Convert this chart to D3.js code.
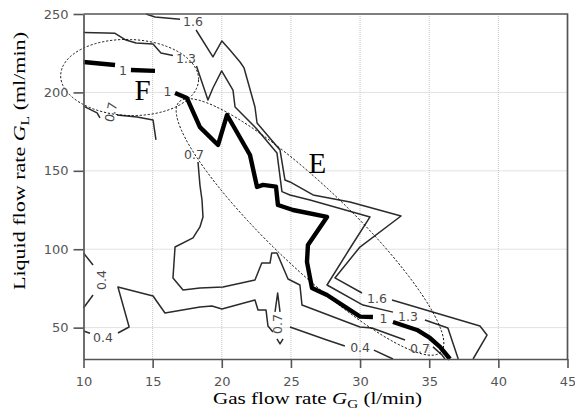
<!DOCTYPE html>
<html>
<head>
<meta charset="utf-8">
<script src="https://cdn.jsdelivr.net/npm/d3@7"></script>
<style>
  body { margin: 0; background: #fff; }
  svg { display: block; }
</style>
</head>
<body>
<div id="chart"></div>
<script>
// Contour map of GL (liquid) vs GG (gas) flow rate

const xTicks = [10, 15, 20, 25, 30, 35, 40, 45];
const yTicks = [50, 100, 150, 200, 250];

// contour segments per level, [GG (l/min), GL (ml/min)], broken where labels sit
const c04 = [
  [[10, 97.6], [10.69, 89.9]],
  [[10.69, 70.8], [10, 62.5]],
  [[10, 47.9], [10.47, 46.4]],
  [[12.49, 46.6], [13.3, 50.4], [12.49, 75.9], [15.03, 70.2], [15.89, 59.3], [18.42, 63.2], [19.29, 63.8],
   [20.01, 61.9], [22.40, 67.6], [22.62, 61.2], [23.20, 61.2], [23.34, 51.0], [23.70, 47.2]],
  [[24.93, 50.4], [27.60, 42.1], [28.9, 38.3]],
  [[31.0, 35.7], [32.38, 30.0]]
];

const c07 = [
  [[10, 191.3], [10.98, 186.9], [11.19, 183.7]],
  [[12.42, 185.6], [13.87, 184.3], [15.03, 182.4], [15.24, 169.7]],
  [[18.28, 155.6], [18.42, 140.9], [18.57, 131.4], [18.64, 120.6], [18.42, 114.2], [17.92, 107.2], [16.62, 101.4],
   [16.47, 81.7], [17.20, 74.0], [18.42, 75.3], [20.09, 75.9], [22.40, 80.4], [22.89, 91.2], [23.49, 91.2],
   [23.61, 97.6], [23.99, 97.6], [24.79, 81.0], [25.65, 77.2], [25.80, 64.4], [29.99, 50.4], [30.86, 49.8], [33.25, 42.1]],
  [[35.27, 37.7], [35.92, 32.6], [36.14, 30.0]],
  [[23.85, 60.0], [24.04, 72.1], [24.21, 60.0]],
  [[23.99, 42.8], [24.21, 39.6], [24.43, 42.8]]
];

const c10 = [
  [[10, 219.4], [12.28, 217.5]],
  [[13.43, 214.3], [15.17, 213.7]],
  [[16.62, 199.6], [17.48, 196.4], [18.42, 177.9], [19.73, 166.5], [20.38, 185.6], [22.04, 160.1], [22.55, 139.7],
   [22.98, 141.0], [23.92, 139.9], [24.06, 128.2], [25.15, 125.0], [27.61, 120.6], [26.23, 102.7], [26.16, 91.9],
   [26.52, 75.3], [27.61, 70.8], [30.0, 57.0], [30.93, 56.8]],
  [[32.38, 53.6], [34.12, 48.5], [35.05, 43.4], [35.78, 37.7], [36.50, 30.0]]
];

const c13 = [
  [[10, 238.2], [11.63, 237.9], [12.28, 237.7], [13.07, 233.4], [13.80, 231.5], [15.03, 230.9], [15.60, 225.1], [16.47, 223.5]],
  [[18.17, 216.8], [19.00, 195.2], [19.36, 202.8], [19.99, 213.7], [20.81, 201.5], [20.96, 190.7], [22.47, 177.3],
   [23.99, 161.4], [24.35, 136.7], [24.93, 134.6], [26.38, 131.4], [30.72, 120.6], [29.42, 102.7], [27.61, 77.2],
   [30.21, 64.4], [32.38, 59.9]],
  [[34.69, 54.9], [36.35, 49.8], [37.10, 30.0]]
];

const c16 = [
  [[14.52, 250], [15.17, 248.1], [16.98, 246.6]],
  [[18.14, 239.8], [19.36, 222.6], [20.01, 232.8], [20.59, 227.0], [21.32, 219.4], [21.61, 215.6], [22.40, 190.7],
   [22.55, 180.5], [24.21, 163.3], [24.57, 144.1], [24.93, 142.9], [26.60, 134.6], [29.27, 130.1], [32.96, 121.2],
   [29.99, 101.4], [28.18, 81.7], [30.14, 72.1]],
  [[32.31, 67.6], [38.67, 51.0], [39.18, 45.3], [38.17, 30.0]]
];

// contour labels (position in data units, angle in degrees)
const labels = [
  { x: 17.92, y: 244.9, t: "1.6", a: 0 },
  { x: 31.22, y: 68.6, t: "1.6", a: 0 },
  { x: 17.41, y: 221.6, t: "1.3", a: 0 },
  { x: 33.47, y: 57.4, t: "1.3", a: 0 },
  { x: 12.86, y: 213.7, t: "1", a: 0 },
  { x: 16.07, y: 200.3, t: "1", a: 0 },
  { x: 31.70, y: 56.1, t: "1", a: 0 },
  { x: 11.99, y: 187.5, t: "0.7", a: -78 },
  { x: 17.99, y: 160.1, t: "0.7", a: 0 },
  { x: 24.06, y: 52.3, t: "0.7", a: -90 },
  { x: 34.33, y: 37.0, t: "0.7", a: 0 },
  { x: 11.27, y: 80.4, t: "0.4", a: -90 },
  { x: 11.41, y: 44.0, t: "0.4", a: 0 },
  { x: 30.0, y: 37.3, t: "0.4", a: 0 }
];

// dashed regions: ends of the long axis, letter position
const regionF = { from: [8.35, 211.1], to: [18.32, 207.9], letter: [14.27, 195.2], name: "F" };
const regionE = { from: [16.91, 193.9], to: [35.85, 34.5], letter: [26.92, 148.6], name: "E" };

(function () {
    const width = 575, height = 415;

    const svg = d3.select("#chart").append("svg")
        .attr("width", width)
        .attr("height", height);

    // scales
    const x = d3.scaleLinear().domain([10, 45]).range([83.5, 567.5]);
    const y = d3.scaleLinear().domain([30, 250]).range([359, 14]);

    // dotted grid
    svg.append("g").selectAll("line")
        .data(xTicks.slice(1, -1))
        .join("line")
        .attr("x1", d => x(d)).attr("x2", d => x(d))
        .attr("y1", y(30)).attr("y2", y(250))
        .attr("stroke", "#c4c4c4").attr("stroke-width", 1)
        .attr("stroke-dasharray", "1,1");

    svg.append("g").selectAll("line")
        .data(yTicks.slice(0, -1))
        .join("line")
        .attr("x1", x(10)).attr("x2", x(45))
        .attr("y1", d => y(d)).attr("y2", d => y(d))
        .attr("stroke", "#c4c4c4").attr("stroke-width", 1)
        .attr("stroke-dasharray", "1,1");

    // contour lines
    const line = d3.line().x(d => x(d[0])).y(d => y(d[1]));

    const levels = [
        { segs: c04, w: 1.5, c: "#2b2b2b" },
        { segs: c07, w: 1.5, c: "#2b2b2b" },
        { segs: c13, w: 1.5, c: "#2b2b2b" },
        { segs: c16, w: 1.5, c: "#2b2b2b" },
        { segs: c10, w: 4.4, c: "#000" }
    ];

    levels.forEach(lv => {
        svg.append("g").selectAll("path")
            .data(lv.segs)
            .join("path")
            .attr("d", line)
            .attr("fill", "none")
            .attr("stroke", lv.c)
            .attr("stroke-width", lv.w)
            .attr("stroke-linejoin", "round");
    });

    svg.append("g").selectAll("text")
        .data(labels)
        .join("text")
        .attr("transform", d => `translate(${x(d.x)},${y(d.y)}) rotate(${d.a})`)
        .attr("text-anchor", "middle")
        .attr("dominant-baseline", "central")
        .attr("font-family", "'DejaVu Sans', sans-serif")
        .attr("font-size", "12.5px")
        .attr("fill", "#4a4a4a")
        .text(d => d.t);

    // dashed ellipses with letters
    function region(r, ry) {
        const p1 = [x(r.from[0]), y(r.from[1])];
        const p2 = [x(r.to[0]), y(r.to[1])];
        const cx = (p1[0] + p2[0]) / 2, cy = (p1[1] + p2[1]) / 2;
        const rx = Math.hypot(p2[0] - p1[0], p2[1] - p1[1]) / 2;
        const ang = Math.atan2(p2[1] - p1[1], p2[0] - p1[0]) * 180 / Math.PI;

        svg.append("ellipse")
            .attr("rx", rx).attr("ry", ry)
            .attr("transform", `translate(${cx},${cy}) rotate(${ang})`)
            .attr("fill", "none")
            .attr("stroke", "#000")
            .attr("stroke-width", 0.9)
            .attr("stroke-dasharray", "2.2,1.8");

        svg.append("text")
            .attr("x", x(r.letter[0]))
            .attr("y", y(r.letter[1]))
            .attr("text-anchor", "middle")
            .attr("font-family", "'Liberation Serif', 'Times New Roman', serif")
            .attr("font-size", "29px")
            .attr("fill", "#000")
            .text(r.name);
    }
    region(regionF, 38);
    region(regionE, 40);

    // axes
    const xAxis = d3.axisBottom(x).tickValues(xTicks).tickSize(9).tickSizeOuter(0).tickPadding(9).tickFormat(d3.format("d"));
    const yAxis = d3.axisLeft(y).tickValues(yTicks).tickSize(10).tickSizeOuter(0).tickPadding(5).tickFormat(d3.format("d"));

    const gx = svg.append("g").attr("transform", `translate(0,${y(30)})`).call(xAxis);
    const gy = svg.append("g").attr("transform", `translate(${x(10)},0)`).call(yAxis);

    [gx, gy].forEach(g => {
        g.select(".domain").attr("stroke", "#555").attr("stroke-width", 1.7);
        g.selectAll(".tick line").attr("stroke", "#555").attr("stroke-width", 1.6);
        g.selectAll(".tick text")
            .attr("font-family", "'DejaVu Sans', sans-serif")
            .attr("font-size", "13px")
            .attr("fill", "#555");
    });

    // top and right frame
    svg.append("path")
        .attr("d", `M${x(10)},${y(250)}H${x(45)}V${y(30)}`)
        .attr("fill", "none")
        .attr("stroke", "#555")
        .attr("stroke-width", 1.7);

    // axis titles
    const xt = svg.append("text")
        .attr("x", 317.5).attr("y", 404)
        .attr("text-anchor", "middle")
        .attr("font-family", "'Liberation Serif', 'Times New Roman', serif")
        .attr("font-size", "16px")
        .attr("textLength", 209)
        .attr("lengthAdjust", "spacingAndGlyphs");
    xt.append("tspan").text("Gas flow rate ");
    xt.append("tspan").attr("font-style", "italic").text("G");
    xt.append("tspan").attr("font-size", "11.5px").attr("dy", 4).text("G");
    xt.append("tspan").attr("dy", -4).text(" (l/min)");

    const yt = svg.append("text")
        .attr("transform", "translate(25,161) rotate(-90)")
        .attr("text-anchor", "middle")
        .attr("font-family", "'Liberation Serif', 'Times New Roman', serif")
        .attr("font-size", "17px")
        .attr("textLength", 258)
        .attr("lengthAdjust", "spacingAndGlyphs");
    yt.append("tspan").text("Liquid flow rate ");
    yt.append("tspan").attr("font-style", "italic").text("G");
    yt.append("tspan").attr("font-size", "12px").attr("dy", 4).text("L");
    yt.append("tspan").attr("dy", -4).text(" (ml/min)");
})();
</script>
</body>
</html>
